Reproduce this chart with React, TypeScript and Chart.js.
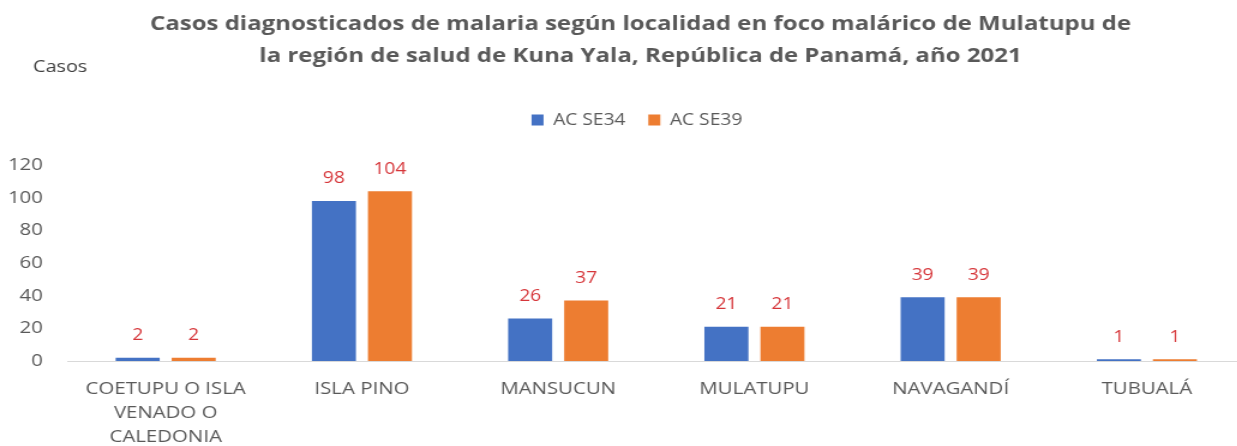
import { useEffect, useRef } from 'react';
import { Chart, registerables } from 'chart.js';

Chart.register(...registerables);

const titleLines = [
  'Casos diagnosticados de malaria según localidad en foco malárico de Mulatupu de',
  'la región de salud de Kuna Yala, República de Panamá, año 2021',
];
const yAxisLabel = 'Casos';
const categories: (string | string[])[] = [
  ['COETUPU O ISLA', 'VENADO O', 'CALEDONIA'],
  'ISLA PINO',
  'MANSUCUN',
  'MULATUPU',
  'NAVAGANDÍ',
  'TUBUALÁ',
];
const seriesNames = ['AC SE34', 'AC SE39'];
const se34 = [2, 98, 26, 21, 39, 1];
const se39 = [2, 104, 37, 21, 39, 1];
const yMin = 0;
const yMax = 120;
const yStep = 20;

const STRETCH = 1.2;
const CANVAS_W = 1039;
const CANVAS_H = 446;

const FONT = '"Open Sans", "Noto Sans", sans-serif';

const adjustPlugin = {
  id: 'adjust',
  beforeInit(chart: any) {
    const lg = chart.legend;
    if (lg && !lg.__patched) {
      const fit = lg.fit.bind(lg);
      lg.fit = function () {
        fit();
        this.height += 27;
      };
      lg.__patched = true;
    }
  },
  afterLayout(chart: any) {
    if (chart.legend) {
      chart.legend.left += 12;
      chart.legend.right += 12;
    }
    if (chart.titleBlock) {
      chart.titleBlock.left += 15;
      chart.titleBlock.right += 15;
    }
  },
  afterDraw(chart: any) {
    const ctx = chart.ctx;
    ctx.save();
    ctx.font = `16.5px ${FONT}`;
    ctx.fillStyle = '#404040';
    ctx.textAlign = 'left';
    ctx.textBaseline = 'middle';
    ctx.fillText(yAxisLabel, 27.5, 67.5);
    ctx.restore();
  },
};

const dataLabelPlugin = {
  id: 'dataLabels',
  afterDatasetsDraw(chart: any) {
    const ctx = chart.ctx;
    ctx.save();
    ctx.font = `16px ${FONT}`;
    ctx.fillStyle = '#D6363A';
    ctx.textAlign = 'center';
    ctx.textBaseline = 'middle';
    chart.data.datasets.forEach((ds: any, i: number) => {
      const meta = chart.getDatasetMeta(i);
      meta.data.forEach((bar: any, j: number) => {
        ctx.fillText(String(ds.data[j]), bar.x, bar.y - 22);
      });
    });
    ctx.restore();
  },
};

export default function App() {
  const ref = useRef<HTMLCanvasElement | null>(null);

  useEffect(() => {
    if (!ref.current) return;
    const chart = new Chart(ref.current, {
      type: 'bar',
      data: {
        labels: categories,
        datasets: [
          {
            label: seriesNames[0],
            data: se34,
            backgroundColor: '#4472C4',
            categoryPercentage: 0.571,
            barPercentage: 0.786,
          },
          {
            label: seriesNames[1],
            data: se39,
            backgroundColor: '#ED7D31',
            categoryPercentage: 0.571,
            barPercentage: 0.786,
          },
        ],
      },
      options: {
        responsive: false,
        animation: false,
        layout: { padding: { top: 0, left: 0, right: 1.5, bottom: 0 } },
        plugins: {
          title: {
            display: true,
            text: titleLines,
            color: '#595959',
            font: { family: FONT, size: 20, weight: 'bold', lineHeight: 32 / 20 },
            padding: { top: 8, bottom: 21 },
          },
          legend: {
            display: true,
            position: 'top',
            labels: {
              color: '#595959',
              font: { family: FONT, size: 16 },
              boxWidth: 10,
              boxHeight: 11,
              padding: 19,
            },
          },
          tooltip: { enabled: false },
        },
        scales: {
          x: {
            grid: { display: false, drawTicks: false },
            border: { display: true, color: '#D9D9D9', width: 1 },
            ticks: {
              color: '#595959',
              font: { family: FONT, size: 17, lineHeight: 24 / 17 },
              padding: 16,
              maxRotation: 0,
              autoSkip: false,
            },
            afterFit: (scale: any) => {
              scale.height = 85;
            },
          },
          y: {
            min: yMin,
            max: yMax,
            grid: { display: false, drawTicks: false },
            border: { display: false },
            ticks: {
              stepSize: yStep,
              color: '#595959',
              font: { family: FONT, size: 17 },
              padding: 20.5,
            },
            afterFit: (scale: any) => {
              scale.width = 56.3;
            },
          },
        },
      },
      plugins: [adjustPlugin, dataLabelPlugin],
    });
    return () => chart.destroy();
  }, []);

  return (
    <div
      style={{
        position: 'fixed',
        left: 0,
        top: 0,
        width: 1237,
        height: 446,
        overflow: 'hidden',
        background: '#ffffff',
      }}
    >
      <canvas
        ref={ref}
        width={CANVAS_W}
        height={CANVAS_H}
        style={{
          width: CANVAS_W,
          height: CANVAS_H,
          transform: `scaleX(${STRETCH})`,
          transformOrigin: '0 0',
          display: 'block',
        }}
      />
    </div>
  );
}
